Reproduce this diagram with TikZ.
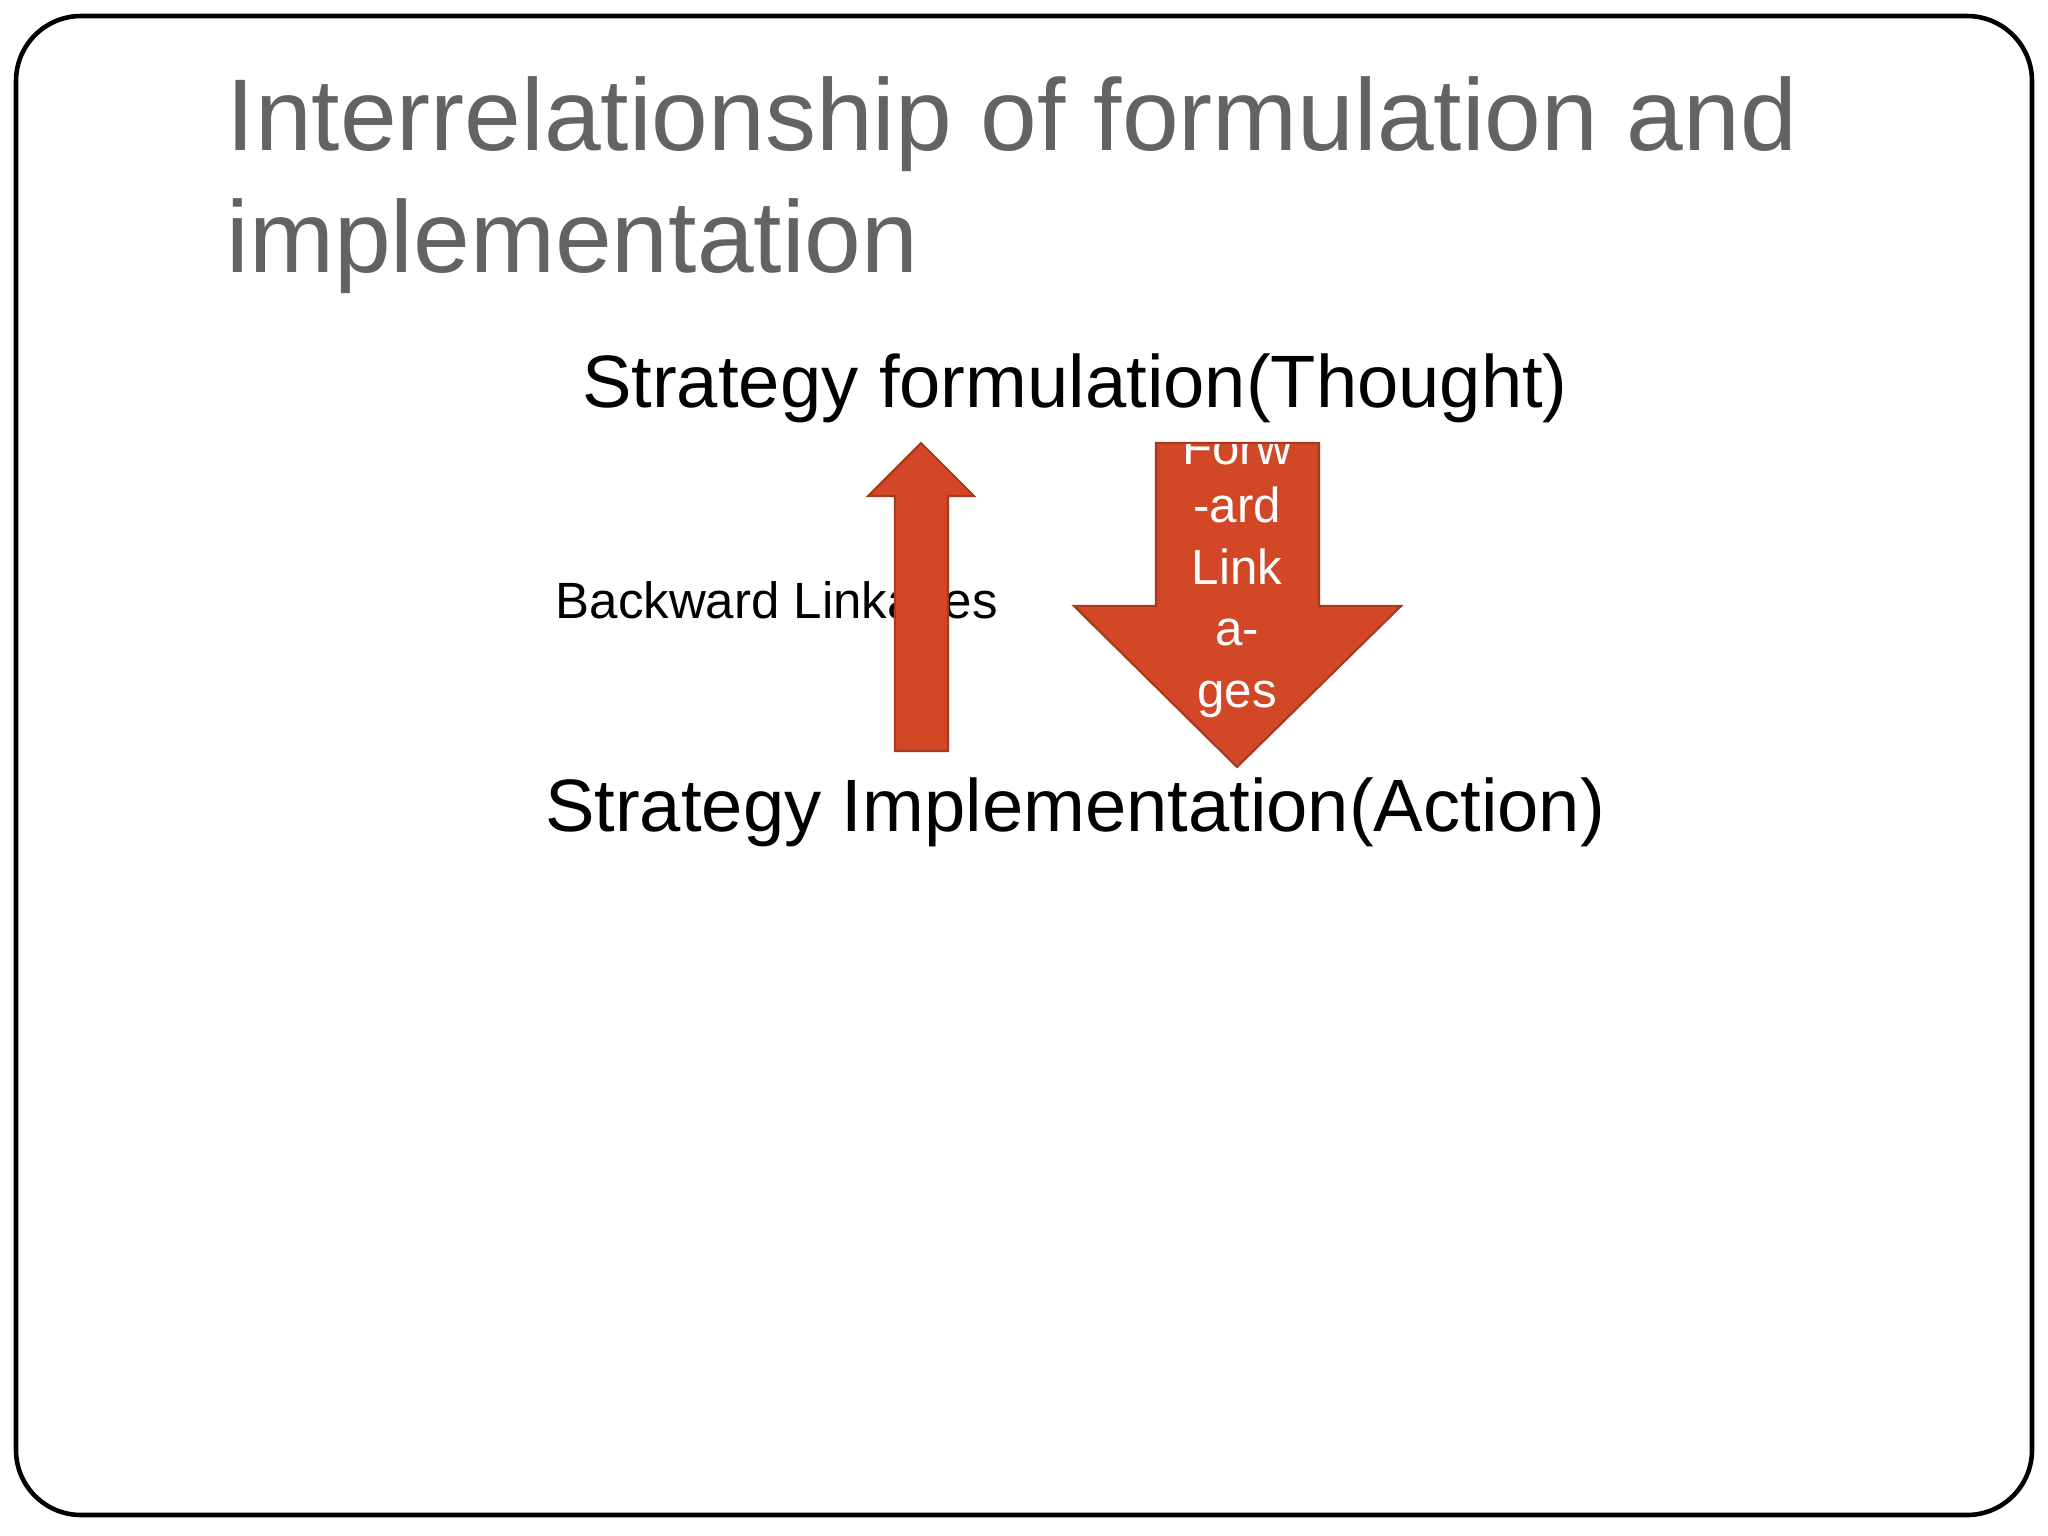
\documentclass[tikz,border=0pt]{standalone}
\usepackage{fontspec}
\setmainfont{Liberation Sans}
\definecolor{arr}{HTML}{D24726}
\definecolor{ttl}{HTML}{636363}
\begin{document}
\begin{tikzpicture}[x=0.01cm,y=-0.01cm,
  ttlstyle/.style={anchor=base west,inner sep=0,text=ttl,font=\fontsize{29}{35}\selectfont},
  big/.style={anchor=base,inner sep=0,font=\fontsize{21.1}{25}\selectfont},
  wtxt/.style={anchor=base,inner sep=0,text=white,font=\fontsize{14}{17}\selectfont},
  arrowshape/.style={fill=arr,draw=arr!80!black,line width=0.6pt}]
\useasboundingbox (0,0) rectangle (2048,1536);
\fill[white] (0,0) rectangle (2048,1536);
\draw[line width=1.3pt,rounded corners=0.65cm] (16,16) rectangle (2032,1515);
\node[ttlstyle] (t1) at (226,150) {Interrelationship of formulation and};
\node[ttlstyle] (t2) at (226,272) {implementation};
\node[big] (sf) at (1075,407) {Strategy formulation(Thought)};
\node[big] (si) at (1075,831) {Strategy Implementation(Action)};
\node[anchor=base west,inner sep=0,font=\fontsize{14.5}{17}\selectfont] (bl) at (555,618) {Backward Linkages};
\draw[arrowshape] (895,751) -- (895,496) -- (868,496) -- (921,443) -- (974,496) -- (948,496) -- (948,751) -- cycle;
\draw[arrowshape] (1156,443) -- (1319,443) -- (1319,606) -- (1401,606) -- (1237,767) -- (1074,606) -- (1156,606) -- cycle;
\begin{scope}
\clip (1000,444) rectangle (1480,800);
\node[wtxt] (w1) at (1237,464) {Forw};
\end{scope}
\node[wtxt] (w2) at (1237,522) {-ard};
\node[wtxt] (w3) at (1237,584) {Link};
\node[wtxt] (w4) at (1237,645) {a-};
\node[wtxt] (w5) at (1237,707) {ges};
\end{tikzpicture}
\end{document}
